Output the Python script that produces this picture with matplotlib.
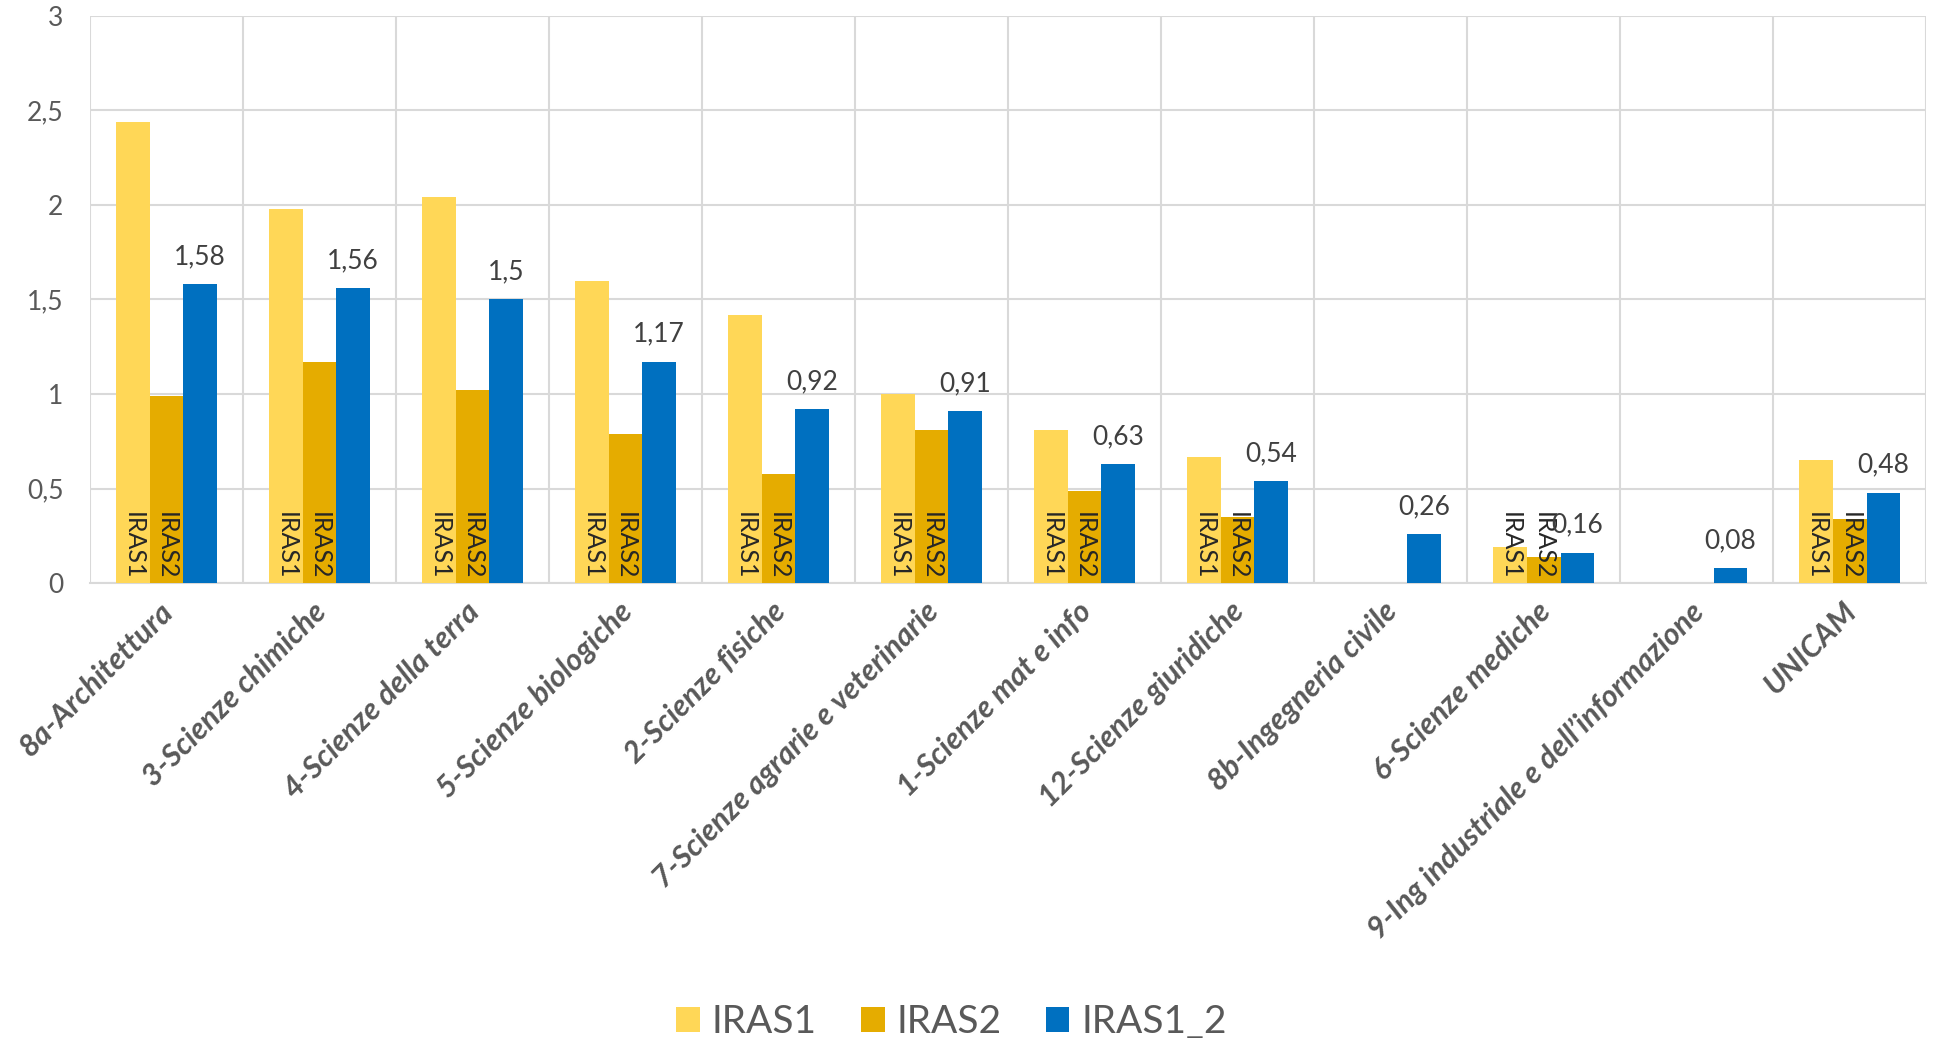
import numpy as np
import matplotlib
matplotlib.use("Agg")
import matplotlib.pyplot as plt
from matplotlib.ticker import FixedLocator, FuncFormatter

plt.rcParams["font.family"] = ["Lato", "DejaVu Sans"]

# Data
categories = [
    "8a-Architettura",
    "3-Scienze chimiche",
    "4-Scienze della terra",
    "5-Scienze biologiche",
    "2-Scienze fisiche",
    "7-Scienze agrarie e veterinarie",
    "1-Scienze mat e info",
    "12-Scienze giuridiche",
    "8b-Ingegneria civile",
    "6-Scienze mediche",
    "9-Ing industriale e dell\u2019informazione",
    "UNICAM",
]
iras1 = [2.44, 1.98, 2.04, 1.60, 1.42, 1.00, 0.81, 0.67, None, 0.19, None, 0.65]
iras2 = [0.99, 1.17, 1.02, 0.79, 0.58, 0.81, 0.49, 0.35, None, 0.14, None, 0.34]
iras1_2 = [1.58, 1.56, 1.5, 1.17, 0.92, 0.91, 0.63, 0.54, 0.26, 0.16, 0.08, 0.48]
series_names = ["IRAS1", "IRAS2", "IRAS1_2"]
colors = ["#FFD757", "#E5AC00", "#0070C0"]


def to_array(values):
    return np.array([np.nan if v is None else v for v in values], dtype=float)


def comma(v, pos=None):
    s = f"{v:g}"
    return s.replace(".", ",")


fig = plt.figure(figsize=(19.34, 10.38), dpi=100)
ax = fig.add_axes([0.0465, 0.438, 0.9495, 0.547])

x = np.arange(len(categories))
width = 0.22
all_series = [to_array(iras1), to_array(iras2), to_array(iras1_2)]

for i, (vals, name, col) in enumerate(zip(all_series, series_names, colors)):
    pos = x + (i - 1) * width
    ax.bar(pos, np.nan_to_num(vals), width, color=col, label=name, zorder=3)
    for p, v in zip(pos, vals):
        if np.isnan(v):
            continue
        if name == "IRAS1_2":
            ax.annotate(comma(round(v, 2)), (p, v), xytext=(0, 11),
                        textcoords="offset points", ha="center", va="bottom",
                        fontsize=19, color="#404040", zorder=4)
        else:
            ax.text(p, 0.02, name, rotation=270, ha="center", va="bottom",
                    fontsize=18, color="#262626", zorder=4)

ax.set_xlim(-0.5, len(categories) - 0.5)
ax.set_ylim(0, 3)
ax.set_yticks(np.arange(0, 3.01, 0.5))
ax.yaxis.set_major_formatter(FuncFormatter(comma))
# ticks are invisible, labels sit a touch left of the group centre
ax.set_xticks(x - 0.05)
ax.set_xticklabels(categories, rotation=45, ha="right", va="top",
                   rotation_mode="anchor", fontsize=22, fontweight="bold",
                   fontstyle="italic", color="#595959")
ax.xaxis.set_minor_locator(FixedLocator(np.arange(-0.5, len(categories), 1)))

ax.tick_params(axis="x", which="both", length=0, pad=10)
ax.tick_params(axis="y", length=0, pad=19, labelsize=19, labelcolor="#595959")

ax.grid(axis="y", which="major", color="#D9D9D9", linewidth=1.5, zorder=0)
ax.grid(axis="x", which="minor", color="#D9D9D9", linewidth=1.5, zorder=0)
ax.grid(axis="x", which="major", visible=False)
for side in ["top", "right", "left"]:
    ax.spines[side].set_visible(False)
ax.spines["bottom"].set_color("#D9D9D9")
ax.spines["bottom"].set_linewidth(1.5)

fig.legend(loc="lower center", bbox_to_anchor=(0.492, -0.036), ncol=3,
           frameon=False, fontsize=28, handlelength=0.6, handleheight=0.6,
           handletextpad=0.3, columnspacing=1.15, labelcolor="#595959")

fig.savefig("out.png", dpi=100)
